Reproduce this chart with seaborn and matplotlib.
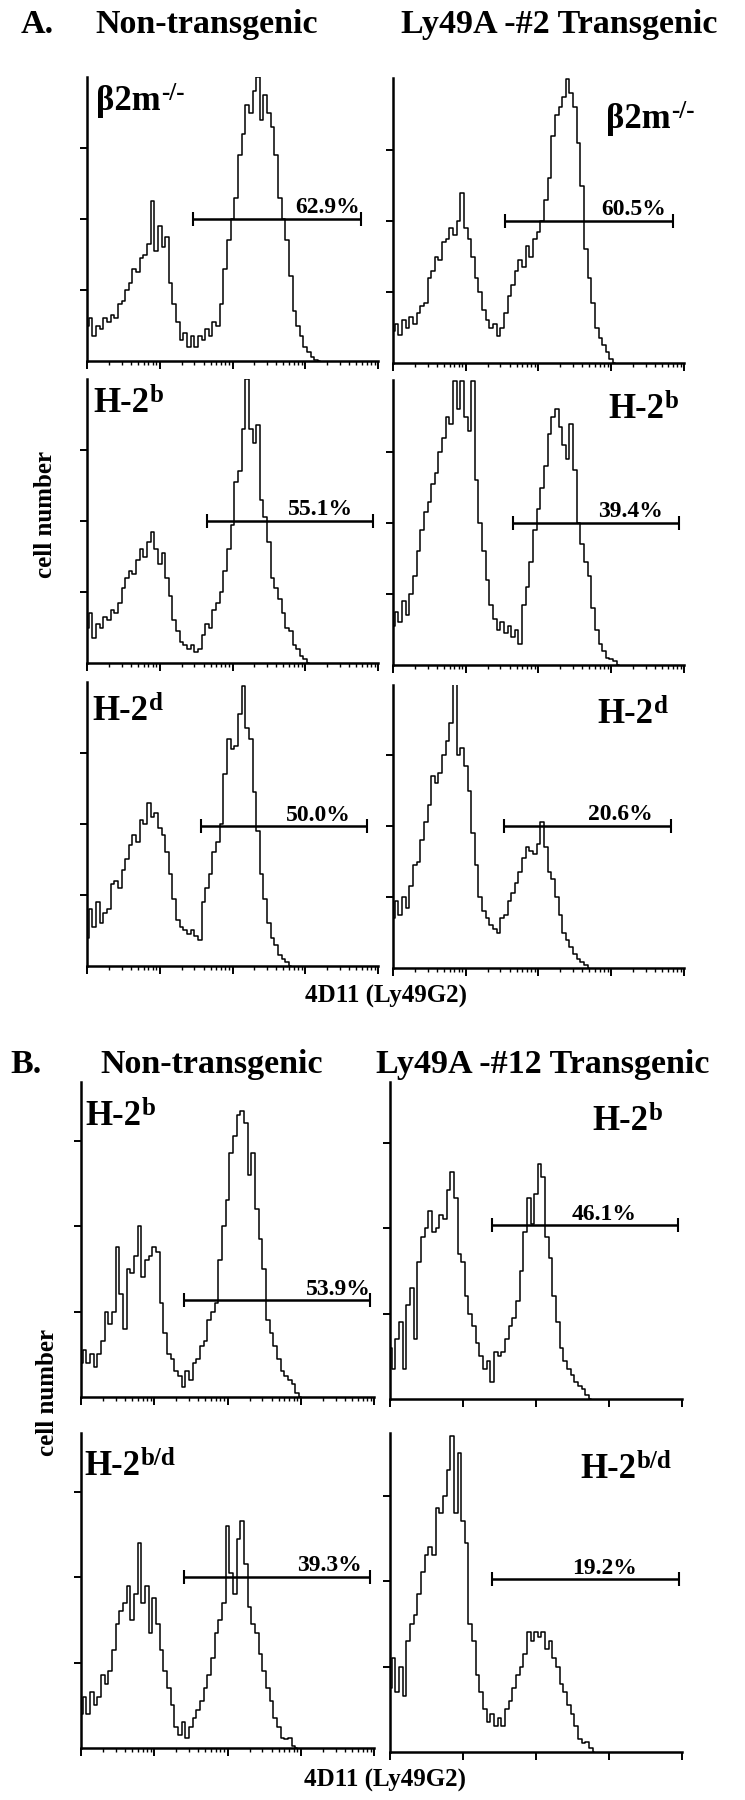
import numpy as np
import pandas as pd
import matplotlib
matplotlib.use('Agg')
import matplotlib.pyplot as plt
import seaborn as sns
from matplotlib.ticker import FixedLocator

sns.set_theme(style='ticks')
plt.rcParams['font.family'] = ['Liberation Serif', 'DejaVu Serif']
plt.rcParams['font.weight'] = 'bold'

# ---------------- data ----------------
BIN = 0.05  # decades per histogram channel (log scale, 4 decades)

a_nontg_b2m = [0.5, 0.6, 0.35, 0.5, 0.45, 0.6, 0.55, 0.65, 0.6, 0.8,
               0.85, 1.0, 1.1, 1.3, 1.25, 1.45, 1.5, 1.65, 2.25, 1.55,
               1.9, 1.6, 1.75, 1.1, 0.8, 0.55, 0.3, 0.4, 0.2, 0.35,
               0.2, 0.35, 0.3, 0.45, 0.35, 0.55, 0.5, 0.8, 1.3, 1.7,
               2.0, 2.3, 2.9, 3.2, 3.6, 3.5, 3.8, 4.0, 3.4, 3.75,
               3.5, 3.3, 2.9, 2.3, 2.0, 1.7, 1.2, 0.7, 0.5, 0.35,
               0.2, 0.12, 0.05, 0.02, 0.0]
a_tg_b2m = [0.45, 0.55, 0.4, 0.6, 0.5, 0.65, 0.55, 0.7, 0.8, 0.85,
            1.2, 1.3, 1.5, 1.45, 1.7, 1.75, 1.9, 1.8, 2.0, 2.4,
            1.9, 1.75, 1.5, 1.2, 1.0, 0.75, 0.6, 0.5, 0.55, 0.38,
            0.5, 0.7, 0.95, 1.1, 1.3, 1.45, 1.35, 1.65, 1.5, 1.75,
            1.85, 2.0, 2.3, 2.6, 3.2, 3.5, 3.6, 3.75, 4.0, 3.8,
            3.6, 3.1, 2.5, 1.6, 1.2, 0.85, 0.5, 0.35, 0.25, 0.15,
            0.05, 0.0]
a_nontg_h2b = [0.5, 0.7, 0.35, 0.55, 0.5, 0.65, 0.6, 0.75, 0.7, 0.85,
               1.05, 1.2, 1.3, 1.25, 1.45, 1.6, 1.5, 1.7, 1.85, 1.6,
               1.4, 1.55, 1.2, 0.95, 0.6, 0.45, 0.3, 0.25, 0.2, 0.25,
               0.15, 0.2, 0.4, 0.55, 0.5, 0.75, 0.85, 1.0, 1.3, 1.6,
               1.95, 2.55, 2.7, 3.3, 4.0, 3.3, 3.1, 3.35, 2.3, 2.05,
               1.7, 1.2, 1.05, 0.9, 0.7, 0.5, 0.45, 0.25, 0.2, 0.1,
               0.05, 0.0]
a_tg_h2b = [0.55, 0.75, 0.6, 0.9, 0.7, 1.0, 1.25, 1.6, 1.9, 2.15,
            2.3, 2.55, 2.7, 3.0, 3.2, 3.5, 3.4, 4.0, 3.6, 4.0,
            3.5, 3.3, 4.0, 2.6, 2.0, 1.6, 1.2, 0.85, 0.65, 0.5,
            0.6, 0.45, 0.55, 0.4, 0.5, 0.3, 0.85, 1.1, 1.45, 1.9,
            2.2, 2.5, 2.8, 3.25, 3.5, 3.6, 3.35, 3.1, 2.9, 3.4,
            2.75, 2.0, 1.7, 1.45, 1.25, 0.8, 0.5, 0.3, 0.2, 0.1,
            0.08, 0.05, 0.0]
a_nontg_h2d = [0.4, 0.8, 0.55, 0.9, 0.6, 0.75, 0.8, 1.15, 1.2, 1.1,
               1.35, 1.5, 1.7, 1.85, 1.75, 2.05, 2.0, 2.3, 2.1, 2.15,
               1.95, 1.85, 1.6, 1.3, 0.95, 0.65, 0.55, 0.5, 0.45, 0.5,
               0.42, 0.37, 0.9, 1.1, 1.3, 1.6, 1.75, 2.0, 2.7, 3.2,
               3.05, 3.1, 3.55, 3.95, 3.35, 3.2, 2.45, 1.9, 1.3, 0.95,
               0.6, 0.4, 0.3, 0.15, 0.1, 0.05, 0.0]
a_tg_h2d = [0.7, 0.95, 0.75, 1.0, 0.85, 1.15, 1.45, 1.5, 1.8, 2.05,
            2.3, 2.7, 2.6, 2.75, 3.0, 3.2, 3.45, 4.0, 3.0, 3.1,
            2.85, 2.5, 1.9, 1.45, 1.0, 0.8, 0.7, 0.6, 0.55, 0.5,
            0.7, 0.75, 0.95, 1.05, 1.2, 1.35, 1.55, 1.7, 1.65, 1.6,
            1.75, 2.05, 1.7, 1.35, 1.25, 1.0, 0.75, 0.5, 0.4, 0.3,
            0.2, 0.12, 0.08, 0.04, 0.0]
b_nontg_h2b = [0.4, 0.55, 0.4, 0.5, 0.35, 0.5, 0.65, 1.0, 0.85, 1.0,
               1.75, 1.2, 0.8, 1.5, 1.45, 1.65, 2.0, 1.4, 1.6, 1.65,
               1.75, 1.7, 1.1, 0.75, 0.5, 0.45, 0.3, 0.25, 0.12, 0.3,
               0.2, 0.4, 0.45, 0.6, 0.65, 0.9, 1.0, 1.1, 1.6, 2.0,
               2.3, 2.85, 3.05, 3.3, 3.35, 3.2, 2.6, 2.85, 2.2, 1.85,
               1.5, 0.9, 0.75, 0.6, 0.45, 0.3, 0.25, 0.2, 0.15, 0.05,
               0.0]
b_tg_h2b = [0.6, 0.35, 0.7, 0.9, 0.35, 1.1, 1.3, 0.7, 1.6, 1.9,
            2.0, 2.2, 1.95, 2.0, 2.15, 2.1, 2.45, 2.65, 2.35, 1.7,
            1.6, 1.2, 1.0, 0.85, 0.65, 0.5, 0.35, 0.45, 0.2, 0.55,
            0.5, 0.55, 0.7, 0.85, 0.95, 1.15, 1.5, 1.95, 2.35, 2.05,
            2.4, 2.75, 2.6, 1.9, 1.65, 1.2, 0.9, 0.6, 0.45, 0.35,
            0.28, 0.2, 0.15, 0.12, 0.05, 0.0]
b_nontg_h2bd = [0.4, 0.6, 0.4, 0.65, 0.5, 0.6, 0.85, 0.75, 0.9, 1.15,
                1.45, 1.6, 1.7, 1.9, 1.5, 1.8, 2.4, 1.7, 1.9, 1.35,
                1.75, 1.45, 1.15, 0.9, 0.7, 0.5, 0.25, 0.15, 0.3, 0.12,
                0.25, 0.35, 0.45, 0.55, 0.7, 0.85, 1.05, 1.35, 1.5, 1.7,
                2.6, 2.05, 1.8, 2.45, 2.65, 2.15, 1.65, 1.45, 1.35, 1.1,
                0.9, 0.7, 0.55, 0.35, 0.25, 0.12, 0.1, 0.12, 0.02, 0.0]
b_tg_h2bd = [0.75, 1.1, 0.7, 1.0, 0.65, 1.3, 1.5, 1.6, 1.85, 2.1,
             2.3, 2.4, 2.3, 2.85, 2.8, 3.0, 3.3, 3.7, 2.8, 3.5,
             2.7, 2.45, 1.5, 1.3, 0.9, 0.7, 0.5, 0.35, 0.45, 0.3,
             0.4, 0.3, 0.5, 0.6, 0.75, 0.9, 1.0, 1.15, 1.4, 1.3,
             1.4, 1.35, 1.4, 1.2, 1.3, 1.1, 1.0, 0.8, 0.7, 0.55,
             0.45, 0.3, 0.15, 0.1, 0.12, 0.05, 0.0]

panel_keys = ['A_nontg_b2m', 'A_tg_b2m', 'A_nontg_h2b', 'A_tg_h2b',
              'A_nontg_h2d', 'A_tg_h2d', 'B_nontg_h2b', 'B_tg_h2b',
              'B_nontg_h2bd', 'B_tg_h2bd']
histograms = [a_nontg_b2m, a_tg_b2m, a_nontg_h2b, a_tg_h2b, a_nontg_h2d,
              a_tg_h2d, b_nontg_h2b, b_tg_h2b, b_nontg_h2bd, b_tg_h2bd]
strain_base = ['β2m', 'β2m', 'H-2', 'H-2', 'H-2', 'H-2', 'H-2', 'H-2',
               'H-2', 'H-2']
strain_sup = ['-/-', '-/-', 'b', 'b', 'd', 'd', 'b', 'b', 'b/d', 'b/d']
gate_pct = ['62.9%', '60.5%', '55.1%', '39.4%', '50.0%', '20.6%',
            '53.9%', '46.1%', '39.3%', '19.2%']
gate_lo = [1.46, 1.54, 1.65, 1.65, 1.57, 1.53, 1.41, 1.40, 1.41, 1.40]
gate_hi = [3.77, 3.85, 3.93, 3.93, 3.85, 3.82, 3.95, 3.95, 3.95, 3.96]
gate_level = [2.0, 2.0, 2.0, 2.0, 1.97, 2.0, 1.13, 2.03, 2.0, 2.02]

frames = []
for key, vals in zip(panel_keys, histograms):
    frames.append(pd.DataFrame({'panel': key,
                                'decade': np.arange(len(vals)) * BIN,
                                'count': vals}))
df = pd.concat(frames, ignore_index=True)

# ---------------- layout (pixels) ----------------
W, H = 745, 1800
fig = plt.figure(figsize=(W / 100, H / 100), dpi=100)
fig.patch.set_facecolor('white')
renderer = fig.canvas.get_renderer()

axes_px = [(87, 77, 291, 284), (393, 78, 291, 285),
           (87, 379, 291, 284), (393, 380, 291, 285),
           (87, 682, 291, 284), (393, 685, 291, 283),
           (81, 1082, 293, 315), (390, 1082, 292, 317),
           (81, 1433, 293, 315), (390, 1433, 292, 319)]
px_per_unit = [71] * 6 + [85.5] * 4
label_px = [(96, 110), (606, 128), (93, 412), (608, 418), (92, 720),
            (597, 723), (85, 1125), (592, 1130), (84, 1475), (580, 1478)]
pct_right = [3.75, 3.75, 3.66, 3.71, 3.63, 3.57, 3.95, 3.38, 3.84, 3.38]
minor_on = [True] * 6 + [True, False, True, False]

minor_ticks = [n + np.log10(k) for n in range(4) for k in range(2, 10)]


def ftext(x, y, s, **kw):
    return fig.text(x / W, 1 - y / H, s, **kw)


def sup_label(x, y, base, sup):
    t = ftext(x, y, base, fontsize=25, fontweight='bold', ha='left',
              va='baseline', color='black')
    bb = t.get_window_extent(renderer=renderer)
    ftext(bb.x1 + 1, y - 10, sup, fontsize=18, fontweight='bold',
          ha='left', va='baseline', color='black')


for i, key in enumerate(panel_keys):
    x, y, w, h = axes_px[i]
    ax = fig.add_axes([x / W, 1 - (y + h) / H, w / W, h / H])
    sub = df[df['panel'] == key]
    sns.lineplot(data=sub, x='decade', y='count', ax=ax, color='black',
                 linewidth=1.1, drawstyle='steps-mid', estimator=None,
                 errorbar=None, legend=False)
    ax.set_xlim(0, 4)
    ax.set_ylim(0, h / px_per_unit[i])
    ax.set_xlabel('')
    ax.set_ylabel('')
    ax.xaxis.set_major_locator(FixedLocator([0, 1, 2, 3, 4]))
    ax.xaxis.set_minor_locator(FixedLocator(minor_ticks if minor_on[i] else []))
    ax.yaxis.set_major_locator(FixedLocator([1, 2, 3]))
    ax.yaxis.set_minor_locator(FixedLocator([]))
    ax.tick_params(axis='both', which='both', labelbottom=False,
                   labelleft=False, direction='out', color='black')
    ax.tick_params(axis='x', which='major', length=6, width=1.4)
    ax.tick_params(axis='x', which='minor', length=3, width=1.0)
    ax.tick_params(axis='y', which='major', length=5, width=1.4)
    sns.despine(ax=ax)
    for side in ('left', 'bottom'):
        ax.spines[side].set_linewidth(1.8)
        ax.spines[side].set_color('black')
    ax.set_facecolor('none')

    # gate bar
    lo, hi, lvl = gate_lo[i], gate_hi[i], gate_level[i]
    ax.plot([lo, hi], [lvl, lvl], color='black', lw=1.8,
            solid_capstyle='butt')
    ax.plot([lo, hi], [lvl, lvl], ls='none', marker='|', ms=10, mew=1.5,
            color='black')
    ax.annotate(gate_pct[i], xy=(pct_right[i], lvl), xytext=(0, 4),
                textcoords='offset points', ha='right', va='baseline',
                fontsize=17, fontweight='bold', color='black')

    lx, ly = label_px[i]
    sup_label(lx, ly, strain_base[i], strain_sup[i])

# titles
title_kw = dict(fontsize=24.5, fontweight='bold', ha='left', va='baseline',
                color='black')
ftext(21, 33, 'A.', **title_kw)
ftext(95, 33, 'Non-transgenic', **title_kw)
ftext(401, 33, 'Ly49A -#2 Transgenic', **title_kw)
ftext(10, 1073, 'B.', **title_kw)
ftext(100, 1073, 'Non-transgenic', **title_kw)
ftext(376, 1073, 'Ly49A -#12 Transgenic', **title_kw)

ax_kw = dict(fontsize=18, fontweight='bold', color='black')
ftext(386, 1003, '4D11 (Ly49G2)', ha='center', va='baseline', **ax_kw)
ftext(385, 1787, '4D11 (Ly49G2)', ha='center', va='baseline', **ax_kw)
ftext(45, 515, 'cell number', ha='center', va='center', rotation=90, **ax_kw)
ftext(47, 1392, 'cell number', ha='center', va='center', rotation=90, **ax_kw)

fig.savefig('out.png', dpi=100, facecolor='white')
